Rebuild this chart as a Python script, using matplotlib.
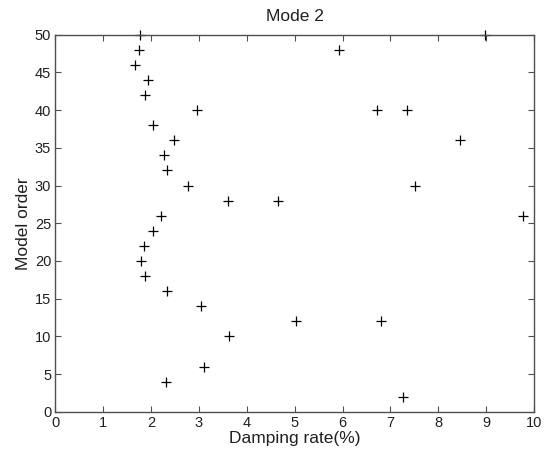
import matplotlib
matplotlib.use('Agg')
import matplotlib.pyplot as plt

# ─── Datos ────────────────────────────────────────────────────────────────────
damping = [1.77, 8.97, 1.75, 5.93, 1.66, 1.94, 1.88, 2.95, 6.72, 7.34,
           2.04, 2.47, 8.45, 2.28, 2.33, 2.77, 7.52, 3.61, 4.66, 2.21,
           9.77, 2.04, 1.85, 1.80, 1.88, 2.33, 3.05, 5.03, 6.81, 3.62,
           3.11, 2.32, 7.27]
order = [50, 50, 48, 48, 46, 44, 42, 40, 40, 40,
         38, 36, 36, 34, 32, 30, 30, 28, 28, 26,
         26, 24, 22, 20, 18, 16, 14, 12, 12, 10,
         6, 4, 2]

plt.rcParams.update({
    "font.family": ["Liberation Sans", "DejaVu Sans"],
    "font.size": 10.5,
    "xtick.direction": "in",
    "ytick.direction": "in",
    "xtick.top": True,
    "ytick.right": True,
    "axes.edgecolor": "#505050",
    "xtick.color": "#505050",
    "ytick.color": "#505050",
    "xtick.labelcolor": "#202020",
    "ytick.labelcolor": "#202020",
})

fig = plt.figure(figsize=(5.44, 4.55), dpi=100)
ax = fig.add_axes([0.1017, 0.095, 0.8800, 0.8288])

ax.plot(damping, order, '+', color='black', markersize=7, markeredgewidth=0.9,
        clip_on=False)

ax.set_xlim(0, 10)
ax.set_ylim(0, 50)
ax.set_xticks(range(0, 11))
ax.set_yticks(range(0, 51, 5))
ax.tick_params(length=4, width=0.8, pad=3)
for s in ax.spines.values():
    s.set_linewidth(1.0)

ax.set_title('Mode 2', fontsize=12.5, pad=10, color='#202020')
ax.set_xlabel('Damping rate(%)', fontsize=12.5, labelpad=1, color='#202020')
ax.set_ylabel('Model order', fontsize=12.5, labelpad=3, color='#202020')

fig.savefig('out.png', dpi=100, facecolor='white')
